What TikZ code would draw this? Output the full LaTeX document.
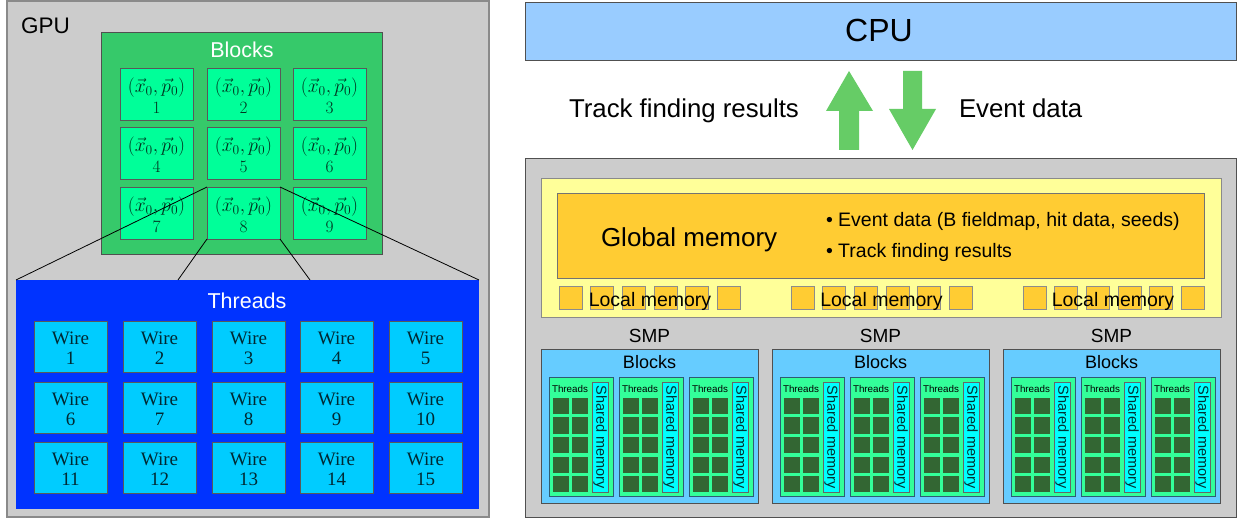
\documentclass[tikz,border=0pt]{standalone}
\usepackage[no-math]{fontspec}
\setsansfont{Liberation Sans}
\newfontfamily\wirefont{Liberation Serif}
\definecolor{gpugray}{HTML}{CCCCCC}
\definecolor{bord}{HTML}{505050}
\definecolor{lgbord}{HTML}{8A8A8A}
\definecolor{blkgreen}{HTML}{36C96A}
\definecolor{cellgreen}{HTML}{00FF99}
\definecolor{thrblue}{HTML}{0033FF}
\definecolor{wirecyan}{HTML}{00CCFF}
\definecolor{cpublue}{HTML}{99CCFF}
\definecolor{arrowgreen}{HTML}{66CC66}
\definecolor{ylw}{HTML}{FFFF99}
\definecolor{orng}{HTML}{FFCC33}
\definecolor{ltblue}{HTML}{66CCFF}
\definecolor{smgreen}{HTML}{33FF99}
\definecolor{shcyan}{HTML}{00FFFF}
\definecolor{dkgreen}{HTML}{336633}
\newcommand\pbox[6]{\node[bx,#6,minimum width={#4-(#2)},minimum height={#5-(#3)}] (#1) at (#2,#3) {};}
\begin{document}
\begin{tikzpicture}[x=1pt,y=-1pt,
  bx/.style={rectangle, draw=bord, line width=0.9pt, inner sep=0pt, outer sep=0pt, anchor=north west},
  sf/.style={inner sep=0pt, outer sep=0pt, font=\sffamily\fontsize{#1}{#1}\selectfont},
  cellt/.style={inner sep=0pt, outer sep=0pt, align=center, text=black!80!cellgreen, font=\rmfamily\fontsize{17.28}{21}\selectfont, anchor=center},
  wiret/.style={inner sep=0pt, outer sep=0pt, align=center, text=black!80!wirecyan, font=\wirefont\fontsize{19}{20}\selectfont, anchor=center},
  conn/.style={draw=black, line width=0.8pt},
  blockarrow/.style={fill=arrowgreen, draw=none}
]
\useasboundingbox (0,0) rectangle (1237,518);
\fill[white] (0,0) rectangle (1237,518);

% ---------------- left: GPU ----------------
\pbox{gpu}{7}{1}{489}{517}{fill=gpugray, draw=lgbord, line width=1.2pt}
\node[sf=22.5, anchor=base west] (gpulbl) at (21,34) {GPU};

\pbox{blk}{101}{32}{382}{254}{fill=blkgreen}
\node[sf=21.5, anchor=base, text=white] (blklbl) at (242,58) {Blocks};

\foreach \i/\cx/\cy in {1/120/68, 2/207/68, 3/293/68, 4/120/127, 5/207/127, 6/293/127, 7/120/187, 8/207/187, 9/293/187} {
  \pbox{c\i}{\cx}{\cy}{\cx+73}{\cy+52}{fill=cellgreen, draw=black!65}
  \node[cellt] (c\i-t) at (\cx+36.5,\cy+28) {\scalebox{1.13}{$(\vec{x}_0,\vec{p}_0)$}\\\i};
}

\pbox{thr}{16}{280}{479}{509}{fill=thrblue, draw=none}
\node[sf=21.5, anchor=base, text=white] (thrlbl) at (247,309) {Threads};

\foreach \r/\wy in {0/321, 1/382, 2/442} {
  \foreach \c/\wx in {1/34, 2/123, 3/212, 4/300, 5/389} {
    \pgfmathtruncatemacro\n{\r*5+\c}
    \pbox{w\n}{\wx}{\wy}{\wx+73}{\wy+51}{fill=wirecyan, draw=black!65}
    \node[wiret] (w\n-t) at (\wx+36.5,\wy+27) {Wire\\\n};
  }
}

\coordinate (tA) at (178,280);
\coordinate (tB) at (310,280);
\draw[conn] (c8.north west) -- (thr.north west);
\draw[conn] (c8.north east) -- (thr.north east);
\draw[conn] (c8.south west) -- (tA);
\draw[conn] (c8.south east) -- (tB);

% ---------------- right: CPU ----------------
\pbox{cpu}{525}{2}{1236}{60}{fill=cpublue, draw=bord}
\node[sf=32, anchor=base] (cpulbl) at (879,42) {CPU};

\fill[blockarrow] (839,150) -- (839,111) -- (826,111) -- (849,71) -- (873,111) -- (859,111) -- (859,150) -- cycle;
\fill[blockarrow] (903,71) -- (922,71) -- (922,109) -- (936,109) -- (912.5,150) -- (889,109) -- (903,109) -- cycle;
\node[sf=25.8, anchor=base west] (tfr) at (569,118) {Track finding results};
\node[sf=25.8, anchor=base west] (evd) at (959,118) {Event data};

% ---------------- right: GPU ----------------
\pbox{gpuR}{525}{158}{1236}{517}{fill=gpugray, draw=bord}
\pbox{ylwbox}{541}{178}{1221}{317}{fill=ylw, draw=lgbord}
\pbox{glob}{557}{193}{1204}{278}{fill=orng, draw=black!55}
\node[sf=26, anchor=base west] (globlbl) at (601,247) {Global memory};
\node[sf=19.5, anchor=base west] (bul1) at (826,227) {\textbullet\ Event data (B fieldmap, hit data, seeds)};
\node[sf=19.5, anchor=base west] (bul2) at (826,258) {\textbullet\ Track finding results};

\foreach \g/\gx/\gc in {0/559/650, 1/791/881.5, 2/1023/1113} {
  \foreach \k in {0,...,5} {
    \pbox{lm\g-\k}{\gx+\k*31.7}{286}{\gx+\k*31.7+23}{309}{fill=orng, draw=black!45}
  }
  \node[sf=19.5, anchor=base] (lml\g) at (\gc,307) {Local memory};
}

\foreach \s/\bx in {1/541, 2/772, 3/1003} {
  \pbox{smp\s}{\bx}{349}{\bx+217}{503}{fill=ltblue, draw=bord}
  \node[sf=19, anchor=base] (smpl\s) at (\bx+108.5,343) {SMP};
  \node[sf=18, anchor=base] (blkl\s) at (\bx+108.5,369) {Blocks};
  \foreach \j/\ox in {1/8, 2/78, 3/148} {
    \pgfmathsetmacro\xx{\bx+\ox}
    \pbox{ib\s\j}{\xx}{377}{\xx+64}{496}{fill=smgreen, draw=black!55!ltblue}
    \node[sf=9.8, anchor=base] (ibt\s\j) at (\xx+21,392) {Threads};
    \pbox{sh\s\j}{\xx+43}{382}{\xx+59}{492}{fill=shcyan, draw=black!60}
    \node[sf=14.5, rotate=-90, text=black!80!shcyan] (sht\s\j) at (\xx+51,437) {Shared memory};
    \foreach \a in {4,23} {
      \foreach \b in {21,40.5,60,79.5,99} {
        \fill[dkgreen] (\xx+\a,377+\b) rectangle (\xx+\a+16,377+\b+16);
      }
    }
  }
}
\end{tikzpicture}
\end{document}
